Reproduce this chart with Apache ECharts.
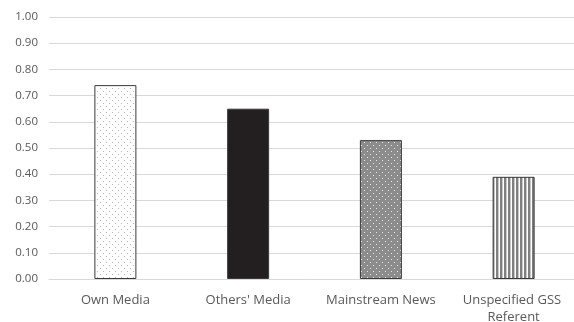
<!DOCTYPE html>
<html>
<head>
<meta charset="utf-8">
<script src="https://cdn.jsdelivr.net/npm/echarts@6/dist/echarts.min.js"></script>
<style>
  html, body { margin: 0; padding: 0; background: #fff; }
  #chart { width: 574px; height: 322px; }
</style>
</head>
<body>
<div id="chart"></div>
<script>
// Source categories and shares
var categories = ['Own Media', "Others' Media", 'Mainstream News', 'Unspecified GSS Referent'];
var values = [0.74, 0.65, 0.53, 0.39];
var yTicks = { min: 0, max: 1, interval: 0.1 };

// Fill patterns built on small canvases
function dotPattern(bg, dot) {
  var c = document.createElement('canvas');
  c.width = 6; c.height = 6;
  var g = c.getContext('2d');
  g.fillStyle = bg; g.fillRect(0, 0, 6, 6);
  g.fillStyle = dot;
  g.fillRect(1, 1, 1, 1);
  g.fillRect(4, 4, 1, 1);
  return { image: c, repeat: 'repeat' };
}
function stripePattern() {
  var c = document.createElement('canvas');
  c.width = 4; c.height = 4;
  var g = c.getContext('2d');
  g.fillStyle = '#ffffff'; g.fillRect(0, 0, 4, 4);
  g.fillStyle = '#808080'; g.fillRect(0, 0, 2, 4);
  g.fillStyle = '#c8c8c8'; g.fillRect(2, 0, 1, 4);
  return { image: c, repeat: 'repeat' };
}

var fills = [
  dotPattern('#ffffff', '#b4b4b4'),
  '#231f20',
  dotPattern('#8c8c8c', '#e6e6e6'),
  stripePattern()
];

var chart = echarts.init(document.getElementById('chart'), null, { renderer: 'canvas' });
chart.setOption({
  animation: false,
  backgroundColor: '#ffffff',
  grid: { left: 49, top: 17, bottom: 43, right: -6, containLabel: false, outerBoundsMode: 'none' },
  xAxis: {
    type: 'category',
    data: categories,
    axisLine: { lineStyle: { color: '#d9d9d9', width: 1 } },
    axisTick: { show: false },
    axisLabel: {
      color: '#595959', fontFamily: 'Open Sans', fontSize: 13,
      margin: 13, lineHeight: 17, width: 125, overflow: 'break', interval: 0
    }
  },
  yAxis: {
    type: 'value',
    min: yTicks.min, max: yTicks.max, interval: yTicks.interval,
    axisLine: { show: false },
    axisTick: { show: false },
    splitLine: { lineStyle: { color: '#d9d9d9', width: 1 } },
    axisLabel: {
      color: '#595959', fontFamily: 'Open Sans', fontSize: 11.5, margin: 11,
      formatter: function (v) { return v.toFixed(2); }
    }
  },
  series: [{
    type: 'bar',
    barWidth: 42,
    data: values.map(function (v, i) {
      return {
        value: v,
        itemStyle: { color: fills[i], borderColor: '#3a3a3a', borderWidth: 1 }
      };
    })
  }]
});
</script>
</body>
</html>
